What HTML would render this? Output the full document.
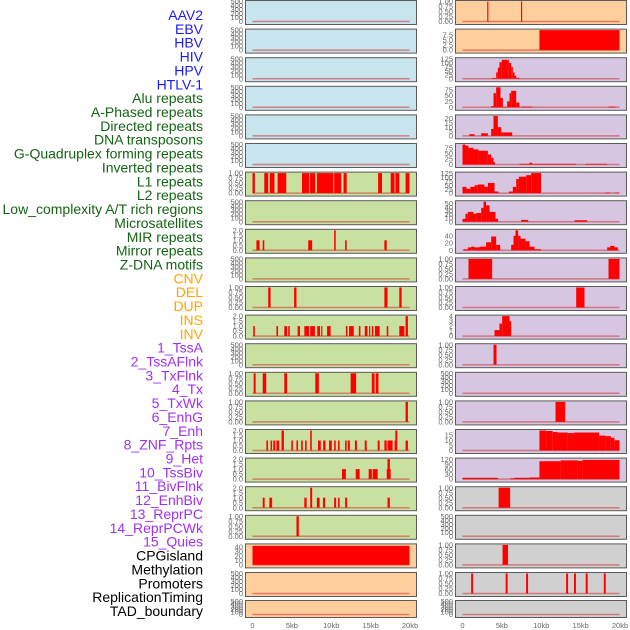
<!DOCTYPE html>
<html><head><meta charset="utf-8"><style>
html,body{margin:0;padding:0;background:#fff;}
svg{display:block;font-family:"Liberation Sans",sans-serif;}
</style></head><body>
<svg id="chart" width="630" height="630" viewBox="0 0 630 630"></svg>
<script>
const NS="http://www.w3.org/2000/svg";
const labelNames=["AAV2","EBV","HBV","HIV","HPV","HTLV-1","Alu repeats","A-Phased repeats","Directed repeats","DNA transposons","G-Quadruplex forming repeats","Inverted repeats","L1 repeats","L2 repeats","Low_complexity A/T rich regions","Microsatellites","MIR repeats","Mirror repeats","Z-DNA motifs","CNV","DEL","DUP","INS","INV","1_TssA","2_TssAFlnk","3_TxFlnk","4_Tx","5_TxWk","6_EnhG","7_Enh","8_ZNF_Rpts","9_Het","10_TssBiv","11_BivFlnk","12_EnhBiv","13_ReprPC","14_ReprPCWk","15_Quies","CPGisland","Methylation","Promoters","ReplicationTiming","TAD_boundary"];
const labelGroups=[6,13,5,15,5];
const groupColors=["#1a1aff","#146414","#ffa500","#a030f0","#000000"];
const xTicks=[0,5,10,15,20];
const xTickLabels=["0","5kb","10kb","15kb","20kb"];
const T500=[0,100,200,300,400,500], T1=[0,0.25,0.5,0.75,1], T2=[0,0.5,1,1.5,2];
const leftBg=["#c8e4ec","#c8e4ec","#c8e4ec","#c8e4ec","#c8e4ec","#c8e4ec","#c8e0a0","#c8e0a0","#c8e0a0","#c8e0a0","#c8e0a0","#c8e0a0","#c8e0a0","#c8e0a0","#c8e0a0","#c8e0a0","#c8e0a0","#c8e0a0","#c8e0a0","#fecf9c","#fecf9c","#fecf9c"];
const rightBg=["#fecf9c","#fecf9c","#d6c6e2","#d6c6e2","#d6c6e2","#d6c6e2","#d6c6e2","#d6c6e2","#d6c6e2","#d6c6e2","#d6c6e2","#d6c6e2","#d6c6e2","#d6c6e2","#d6c6e2","#d6c6e2","#d6c6e2","#d0d0d0","#d0d0d0","#d0d0d0","#d0d0d0","#d0d0d0"];
const leftData=[
 {t:T500,m:500,s:[]},{t:T500,m:500,s:[]},{t:T500,m:500,s:[]},{t:T500,m:500,s:[]},{t:T500,m:500,s:[]},{t:T500,m:500,s:[]},
 {t:T1,m:1,s:[[0,0.3,1],[1.5,2.0,1],[2.2,2.8,1],[3.2,4.3,1],[6.3,7.2,1],[7.3,8.0,1],[8.2,10.3,1],[10.4,11.3,1],[11.6,12.0,1],[16,16.5,1],[17.6,18.1,1],[18.2,18.7,1],[19.5,20,1]]},
 {t:T500,m:500,s:[]},
 {t:T2,m:2,s:[[0.5,0.9,1],[1.3,1.5,1],[7.1,7.6,1],[10.4,10.6,2],[11.8,12.0,1],[16.8,17.1,1]]},
 {t:T500,m:500,s:[]},
 {t:T1,m:1,s:[[2.0,2.3,1],[5.3,5.6,1],[16.8,17.2,1],[18.7,19.0,1]]},
 {t:T2,m:2,s:[[0.1,0.3,1],[3.05,3.25,1],[4.05,4.4,1],[4.55,4.75,1],[5.75,6.05,1],[6.6,7.2,1],[7.35,7.95,1],[8.25,8.6,1],[8.75,8.9,1],[9.5,9.95,1],[11.9,12.1,1],[12.3,12.9,1],[13.55,13.75,1],[14.3,14.65,1],[14.85,15.0,1],[15.2,15.4,1],[15.6,16.2,1],[17.1,17.3,1],[18.7,19.35,1],[19.5,19.8,2]]},
 {t:T500,m:500,s:[]},
 {t:T1,m:1,s:[[0.15,0.4,1],[1.3,1.75,1],[4.05,4.4,1],[8.0,8.45,1],[12.5,13.2,1],[15.2,15.55,1],[15.7,16.05,1]]},
 {t:T1,m:1,s:[[19.5,19.8,1]]},
 {t:T2,m:2,s:[[1.77,1.98,1],[2.3,2.5,1],[2.65,2.9,1],[3.05,3.4,1],[3.7,4.0,2],[4.95,5.15,1],[5.6,5.8,1],[6.2,6.4,1],[6.7,6.9,1],[7.35,7.55,2],[8.35,8.7,1],[9.0,9.3,1],[9.75,10.1,1],[10.4,10.6,1],[10.9,11.1,1],[11.8,12.0,1],[12.15,12.4,1],[13.05,13.3,1],[14.3,14.55,1],[15.95,16.2,1],[16.8,17.1,1],[17.2,17.85,1],[18.1,18.35,1],[18.2,18.45,2],[19.5,19.8,1]]},
 {t:T2,m:2,s:[[11.4,11.9,1],[13.15,13.65,1],[14.8,15.2,1],[15.3,15.95,1],[17.1,17.6,1],[17.2,17.5,2]]},
 {t:T2,m:2,s:[[1.3,1.55,1],[2.15,2.5,1],[6.6,6.9,1],[7.35,7.6,2],[8.2,8.55,1],[8.98,9.25,1],[10.4,10.65,1],[10.9,11.1,1],[11.8,12.05,1],[17.2,17.5,1]]},
 {t:T1,m:1,s:[[5.6,5.9,1]]},
 {t:[0,10,20,30,40],m:44,s:[[0,20,42]]},
 {t:T500,m:500,s:[]},{t:T500,m:500,s:[]}
];
const rightData=[
 {t:T1,m:1,s:[[3.15,3.3,1],[7.45,7.6,1]]},
 {t:[0,2.5,5,7.5],m:9.8,s:[[9.8,20,9.8]]},
 {t:[0,25,50,75,100,125],m:127,s:[[3.74,4.29,5],[4.29,4.5,40],[4.5,4.71,70],[4.71,5.0,105],[5.0,5.9,120],[5.9,6.2,100],[6.2,6.41,75],[6.41,6.62,40],[6.62,6.84,20],[6.84,7.26,6]]},
 {t:[0,25,50,75],m:85,s:[[3.65,3.95,5],[3.95,4.29,60],[4.29,4.84,85],[4.84,5.14,40],[5.14,5.69,2],[5.69,5.99,25],[5.99,6.2,60],[6.2,6.84,70],[6.84,7.26,20],[7.47,8.87,3],[18.6,19.49,3]]},
 {t:[0,5,10,15,20],m:23,s:[[0.89,1.53,2],[2.38,3.23,3],[3.65,3.95,8],[3.95,4.5,23],[4.5,4.93,10],[4.93,6.33,4]]},
 {t:[0,25,50,75],m:90,s:[[0,0.38,90],[0.38,0.76,85],[0.76,1.4,75],[1.4,2.05,68],[2.05,3.23,62],[3.23,3.65,45],[3.65,3.95,30],[3.95,4.16,10],[7.26,14.5,3],[8.54,8.87,8],[15.67,18.43,3]]},
 {t:[0,25,50,75,100,125],m:128,s:[[0,0.5,40],[0.5,1.0,28],[1.0,1.53,40],[1.53,1.95,50],[1.95,2.8,55],[2.8,3.23,40],[3.23,4.08,65],[4.08,4.59,10],[5.9,6.41,10],[6.41,6.84,40],[6.84,7.18,90],[7.18,8.11,105],[8.11,8.75,115],[8.75,10.0,128],[18.17,18.85,3],[19.36,20,3]]},
 {t:[0,10,20,30,40,50],m:55,s:[[0,0.38,8],[0.38,0.68,22],[0.68,1.4,27],[1.4,1.74,22],[1.74,2.38,24],[2.38,2.68,38],[2.68,3.0,55],[3.0,3.44,45],[3.44,4.2,27],[4.2,4.54,8],[7.47,8.37,5],[14.27,15.88,4]]},
 {t:[0,20,40],m:55,s:[[0.13,0.68,3],[0.68,1.1,8],[1.1,1.53,10],[1.53,2.17,8],[2.17,3.0,10],[3.0,3.65,22],[3.65,4.29,38],[4.29,4.8,15],[6.2,6.5,15],[6.5,6.75,40],[6.75,7.09,55],[7.09,7.39,40],[7.39,8.03,32],[8.03,8.54,25],[8.54,9.17,10],[9.17,10.0,3],[18.43,18.81,8],[18.81,19.36,12],[19.36,19.79,8]]},
 {t:T1,m:1,s:[[0.76,3.78,1],[18.6,20,1]]},
 {t:T1,m:1,s:[[14.48,15.54,1]]},
 {t:[0,1,2,3,4],m:4,s:[[4.08,4.71,1.2],[4.71,5.05,2.5],[5.05,5.99,4],[5.99,6.2,3]]},
 {t:T1,m:1,s:[[3.95,4.33,1]]},
 {t:T500,m:500,s:[]},
 {t:T1,m:1,s:[[11.85,13.08,1]]},
 {t:[0,5,10,15],m:19.5,s:[[9.8,10.65,19.5],[10.65,11.5,19],[11.5,12.1,18],[12.1,13.4,17.5],[13.4,14.2,17],[14.2,17.4,17.5],[17.4,18.25,14.5],[18.25,18.9,14],[18.9,19.35,12.5],[19.35,20,10]]},
 {t:[0,30,60,90,120],m:123,s:[[0,4.5,8],[6.1,6.6,5],[6.6,8.5,8],[8.5,9.8,10],[9.8,12.5,110],[12.5,14.7,115],[14.7,15.3,112],[15.3,20,118]]},
 {t:T1,m:1,s:[[4.6,6.07,1]]},
 {t:T500,m:500,s:[]},
 {t:T1,m:1,s:[[5.1,5.8,1]]},
 {t:T1,m:1,s:[[1.1,1.35,1],[5.5,5.75,1],[8.1,8.35,1],[13.2,13.45,1],[14.2,14.45,1],[15.7,15.95,1],[18.0,18.25,1]]},
 {t:T500,m:500,s:[]}
];
const svg=document.getElementById('chart');
function mk(tag,attrs,parent){const e=document.createElementNS(NS,tag);for(const k in attrs)e.setAttribute(k,attrs[k]);(parent||svg).appendChild(e);return e;}
let li=0;
labelGroups.forEach((n,g)=>{for(let j=0;j<n;j++){const i=li++;
 const t=mk('text',{x:203,y:20+i*13.86,'text-anchor':'end','font-size':14,fill:groupColors[g]});
 t.textContent=labelNames[i];
 
 
}});
function fmt(v,ticks){const anyFrac=ticks.some(x=>x%1!==0);if(!anyFrac)return String(v);
 const d=ticks.some(x=>Math.round(x*100)%10!==0)?2:1;return v.toFixed(d);}
function drawPanel(px,pw,top,h,bg,d,side,row){
 const g=mk('g',{});
 
 
 mk('rect',{x:px+0.5,y:top+0.5,width:pw,height:h,fill:bg,stroke:'#5a5a5a','stroke-width':1},g);
 const x0=px+7.5, x1=px+pw-6.5;
 const xs=v=>x0+(x1-x0)*v/20;
 const yb=top+h-2.5, yt=top+1.5;
 const ys=v=>yb-(yb-yt)*v/d.m;
 d.t.forEach(v=>{const t=mk('text',{x:px-2,y:ys(v)+2.6,'text-anchor':'end','font-size':7.5,fill:'#666'},g);
  t.textContent=fmt(v,d.t);
  
  });
 mk('line',{x1:xs(0),x2:xs(20),y1:yb,y2:yb,stroke:'#d04040','stroke-opacity':0.6,'stroke-width':1.5},g);
 d.s.forEach(s=>{const w=Math.max(1,xs(s[1])-xs(s[0]));
  const r=mk('rect',{x:xs(s[0]),y:ys(s[2]),width:w,height:yb-ys(s[2]),fill:'#ff0000'},g);
  
  });
}
for(let r=0;r<22;r++){
 const top=r<21?r*28.6:600, h=r<21?24:17;
 drawPanel(245,171,top,h,leftBg[r],leftData[r],'left',r);
 drawPanel(455,171,top,h,rightBg[r],rightData[r],'right',r);
}
xTicks.forEach((v,i)=>{
 const t=mk('text',{x:252.5+157.5*v/20,y:628,'text-anchor':'middle','font-size':7.5,fill:'#666'});
 t.textContent=xTickLabels[i];
 
 
 const u=mk('text',{x:462.5+157.5*v/20,y:628,'text-anchor':'middle','font-size':7.5,fill:'#666'});
 u.textContent=xTickLabels[i];
 
 
});
</script>
</body></html>
